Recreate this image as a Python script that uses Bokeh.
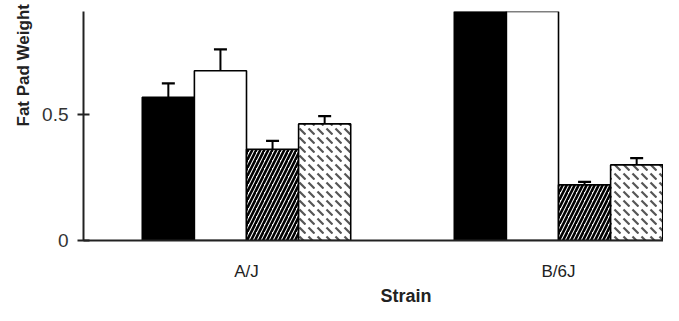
import numpy as np
from bokeh.plotting import figure
from bokeh.models import ColumnDataSource, Whisker, FixedTicker, Range1d, TeeHead, Title
from bokeh.embed import file_html
from bokeh.resources import INLINE

# ---- data ----
strains = ["A/J", "B/6J"]
series = ["black", "white", "hatched", "stipple"]
values_aj = [0.566, 0.671, 0.361, 0.461]
errors_aj = [0.055, 0.085, 0.033, 0.031]
values_b6 = [1.25, 1.15, 0.220, 0.299]
errors_b6 = [0.10, 0.10, 0.012, 0.027]
y_ticks = [0, 0.5]
y_tick_labels = ["0", "0.5"]
y_title = "Fat Pad Weight"
x_title = "Strain"

FONT = "Liberation Sans"
BAR_W = 0.167

styles = {
    "black":   dict(fill_color="black"),
    "white":   dict(fill_color="white"),
    "hatched": dict(fill_color="white", hatch_pattern="right_diagonal_line",
                    hatch_color="black", hatch_scale=8, hatch_weight=2.6),
    "stipple": dict(fill_color="white", hatch_pattern="left_diagonal_dash",
                    hatch_color="#555555", hatch_scale=9, hatch_weight=2.2),
}

p = figure(width=663, height=305, output_backend="svg", toolbar_location=None,
           x_range=Range1d(0.4776, 2.3365), y_range=Range1d(0, 0.9055),
           min_border_left=83, min_border_right=0, min_border_top=11,
           min_border_bottom=64)
p.outline_line_color = None
p.xgrid.visible = False
p.ygrid.visible = False
p.background_fill_color = "white"

all_vals = [values_aj, values_b6]
all_errs = [errors_aj, errors_b6]
for si, name in enumerate(series):
    xs = [gi + 1 + (si - 1.5) * BAR_W for gi in range(len(strains))]
    tops = [all_vals[gi][si] for gi in range(len(strains))]
    errs = [all_errs[gi][si] for gi in range(len(strains))]
    src = ColumnDataSource(dict(x=xs, top=tops, upper=[t + e for t, e in zip(tops, errs)]))
    p.vbar(x="x", top="top", bottom=0, width=BAR_W, source=src,
           line_color="black", line_width=1.6, **styles[name])
    w = Whisker(source=src, base="x", lower="top", upper="upper", dimension="height",
                line_color="black", line_width=2, lower_head=None,
                upper_head=TeeHead(size=13, line_color="black", line_width=2.2),
                level="overlay")
    p.add_layout(w)

# x axis
xa = p.xaxis[0]
xa.ticker = FixedTicker(ticks=[1, 2])
xa.major_label_overrides = {1: strains[0], 2: strains[1]}
xa.major_tick_line_color = None
xa.major_tick_in = 0
xa.major_tick_out = 0
xa.minor_tick_line_color = None
xa.minor_tick_out = 0
xa.axis_line_width = 2
xa.axis_line_color = "#222222"
xa.major_label_standoff = 21
xa.major_label_text_font = FONT
xa.major_label_text_font_size = "17px"
xa.major_label_text_color = "#222222"

# y axis
ya = p.yaxis[0]
ya.ticker = FixedTicker(ticks=y_ticks)
ya.major_label_overrides = {t: l for t, l in zip(y_ticks, y_tick_labels)}
ya.major_tick_in = 6
ya.major_tick_out = 6
ya.major_tick_line_width = 2
ya.minor_tick_line_color = None
ya.axis_line_width = 2
ya.axis_line_color = "#222222"
ya.major_tick_line_color = "#222222"
ya.major_label_standoff = 9
ya.major_label_text_font = FONT
ya.major_label_text_font_size = "19px"
ya.major_label_text_color = "#333333"

# axis titles
p.add_layout(Title(text=y_title, align="left", offset=114, text_font=FONT,
                   text_font_style="bold", text_font_size="17px",
                   text_color="#222222", standoff=14), "left")
p.add_layout(Title(text=x_title, align="left", offset=297, text_font=FONT,
                   text_font_style="bold", text_font_size="18px",
                   text_color="#222222", standoff=0), "below")

open("out.html", "w").write(file_html(p, INLINE))
